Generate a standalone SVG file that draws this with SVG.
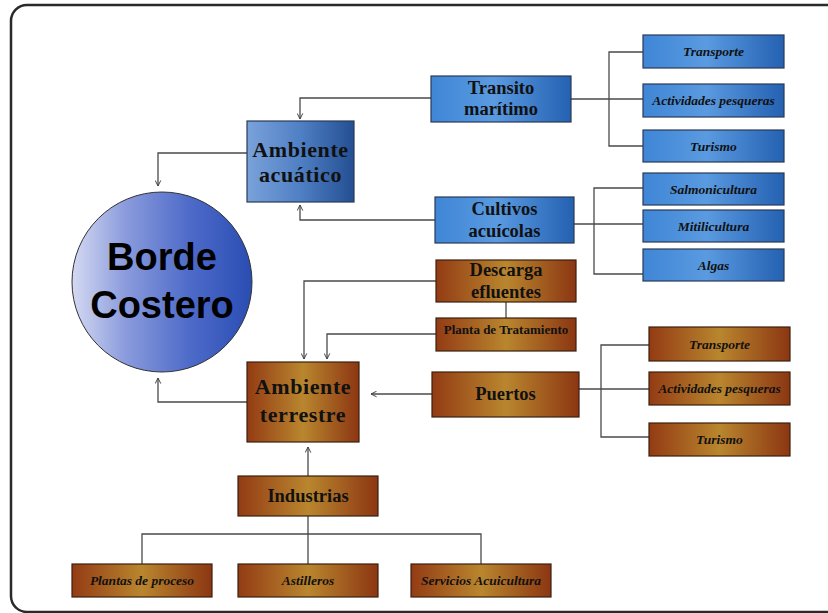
<svg xmlns="http://www.w3.org/2000/svg" width="828" height="613" viewBox="0 0 828 613">
<defs>
<linearGradient id="gCircle" x1="0" y1="0" x2="1" y2="0">
<stop offset="0" stop-color="#d4d9f2"/>
<stop offset="0.3" stop-color="#8a9bdc"/>
<stop offset="0.65" stop-color="#4e6bc9"/>
<stop offset="1" stop-color="#2a4db3"/>
</linearGradient>
<linearGradient id="gBlue" x1="0" y1="0" x2="1" y2="0">
<stop offset="0" stop-color="#3f86d6"/>
<stop offset="0.45" stop-color="#5a9ae0"/>
<stop offset="1" stop-color="#2461b2"/>
</linearGradient>
<linearGradient id="gBlueBig" x1="0" y1="0" x2="1" y2="0">
<stop offset="0" stop-color="#7aa2da"/>
<stop offset="0.5" stop-color="#4f7fc4"/>
<stop offset="1" stop-color="#244f92"/>
</linearGradient>
<linearGradient id="gBrown" x1="0" y1="0" x2="1" y2="0">
<stop offset="0" stop-color="#933b14"/>
<stop offset="0.5" stop-color="#b9862e"/>
<stop offset="1" stop-color="#8c3612"/>
</linearGradient>
<marker id="arr" viewBox="0 0 10 10" refX="9" refY="5" markerWidth="7" markerHeight="7" markerUnits="userSpaceOnUse" orient="auto">
<path d="M1,1 L9,5 L1,9" fill="none" stroke="#444" stroke-width="1.4"/>
</marker>
<style>
.conn{fill:none;stroke:#4a4a4a;stroke-width:1.3}
.blue{fill:url(#gBlue);stroke:#2a3a55;stroke-width:1.2}
.blueBig{fill:url(#gBlueBig);stroke:#2a3a55;stroke-width:1.2}
.brown{fill:url(#gBrown);stroke:#3a2010;stroke-width:1.2}
.t{font-family:"Liberation Serif","Times New Roman",serif;font-weight:bold;fill:#111;text-anchor:middle}
.big{font-size:22px;letter-spacing:0.6px}
.mid{font-size:18.5px}
.sm{font-size:13.5px;font-style:italic}
.pl{font-size:13px}
</style>
</defs>
<rect x="11" y="5" width="860" height="607" rx="16" fill="#ffffff" stroke="#2a2a2a" stroke-width="2.5"/>

<g id="connectors">
<path class="conn" d="M431,98 H300 V119" marker-end="url(#arr)"/>
<path class="conn" d="M435,220 H300 V205" marker-end="url(#arr)"/>
<path class="conn" d="M247,153 H158 V186" marker-end="url(#arr)"/>
<path class="conn" d="M247,402 H158 V378" marker-end="url(#arr)"/>
<path class="conn" d="M436,281 H304 V359" marker-end="url(#arr)"/>
<path class="conn" d="M436,334 H327 V359" marker-end="url(#arr)"/>
<path class="conn" d="M432,394 H371" marker-end="url(#arr)"/>
<path class="conn" d="M308,476 V447" marker-end="url(#arr)"/>
<path class="conn" d="M506,302 V318"/>
<path class="conn" d="M571,99 H643 M643,52 H609 V146 H643"/>
<path class="conn" d="M574,224 H643 M643,188 H594 V274 H643"/>
<path class="conn" d="M579,389 H649 M649,345 H601 V437 H649"/>
<path class="conn" d="M308,516 V564 M142,564 V534 H481 V564"/>
</g>

<g id="borde-costero">
<circle cx="162" cy="282" r="90" fill="url(#gCircle)" stroke="#333" stroke-width="1"/>
<text x="162" y="270" font-family="'Liberation Sans',Arial,sans-serif" font-weight="bold" font-size="38" fill="#000" text-anchor="middle">Borde</text>
<text x="162" y="318" font-family="'Liberation Sans',Arial,sans-serif" font-weight="bold" font-size="38" fill="#000" text-anchor="middle">Costero</text>
</g>

<g id="ambiente-acuatico">
<rect class="blueBig" x="247" y="121" width="107" height="81"/>
<text class="t big" x="300.5" y="157">Ambiente</text>
<text class="t big" x="300.5" y="182">acuático</text>
</g>

<g id="transito-maritimo">
<rect class="blue" x="431" y="76" width="140" height="46"/>
<text class="t mid" x="501" y="94">Transito</text>
<text class="t mid" x="501" y="115">marítimo</text>
</g>

<g id="cultivos-acuicolas">
<rect class="blue" x="435" y="197" width="139" height="46"/>
<text class="t mid" x="504.5" y="215">Cultivos</text>
<text class="t mid" x="504.5" y="237">acuícolas</text>
</g>

<g id="transporte-azul">
<rect class="blue" x="643" y="35" width="141" height="33"/>
<text class="t sm" x="713.5" y="56">Transporte</text>
</g>
<g id="actividades-azul">
<rect class="blue" x="643" y="84" width="141" height="33"/>
<text class="t sm" x="713.5" y="105">Actividades pesqueras</text>
</g>
<g id="turismo-azul">
<rect class="blue" x="643" y="130" width="141" height="32"/>
<text class="t sm" x="713.5" y="150.5">Turismo</text>
</g>
<g id="salmonicultura">
<rect class="blue" x="643" y="173" width="141" height="32"/>
<text class="t sm" x="713.5" y="193.5">Salmonicultura</text>
</g>
<g id="mitilicultura">
<rect class="blue" x="643" y="210" width="141" height="32"/>
<text class="t sm" x="713.5" y="230.5">Mitilicultura</text>
</g>
<g id="algas">
<rect class="blue" x="643" y="249" width="141" height="32"/>
<text class="t sm" x="713.5" y="269.5">Algas</text>
</g>

<g id="descarga-efluentes">
<rect class="brown" x="436" y="260" width="140" height="42"/>
<text class="t mid" x="506" y="276">Descarga</text>
<text class="t mid" x="506" y="298">efluentes</text>
</g>
<g id="planta-tratamiento">
<rect class="brown" x="436" y="318" width="140" height="33"/>
<text class="t pl" x="506" y="334">Planta de Tratamiento</text>
</g>

<g id="ambiente-terrestre">
<rect class="brown" x="247" y="362" width="112" height="80"/>
<text class="t big" x="303" y="394">Ambiente</text>
<text class="t big" x="303" y="422">terrestre</text>
</g>

<g id="puertos">
<rect class="brown" x="432" y="372" width="147" height="45"/>
<text class="t mid" x="505.5" y="400">Puertos</text>
</g>

<g id="transporte-cafe">
<rect class="brown" x="649" y="327" width="141" height="34"/>
<text class="t sm" x="719.5" y="348.5">Transporte</text>
</g>
<g id="actividades-cafe">
<rect class="brown" x="649" y="372" width="141" height="33"/>
<text class="t sm" x="719.5" y="393">Actividades pesqueras</text>
</g>
<g id="turismo-cafe">
<rect class="brown" x="649" y="423" width="141" height="33"/>
<text class="t sm" x="719.5" y="444">Turismo</text>
</g>

<g id="industrias">
<rect class="brown" x="238" y="476" width="140" height="40"/>
<text class="t mid" x="308" y="502">Industrias</text>
</g>
<g id="plantas-proceso">
<rect class="brown" x="72" y="564" width="140" height="33"/>
<text class="t sm" x="142" y="585">Plantas de proceso</text>
</g>
<g id="astilleros">
<rect class="brown" x="238" y="564" width="140" height="33"/>
<text class="t sm" x="308" y="585">Astilleros</text>
</g>
<g id="servicios-acuicultura">
<rect class="brown" x="411" y="564" width="140" height="33"/>
<text class="t sm" x="481" y="585">Servicios Acuicultura</text>
</g>
</svg>
